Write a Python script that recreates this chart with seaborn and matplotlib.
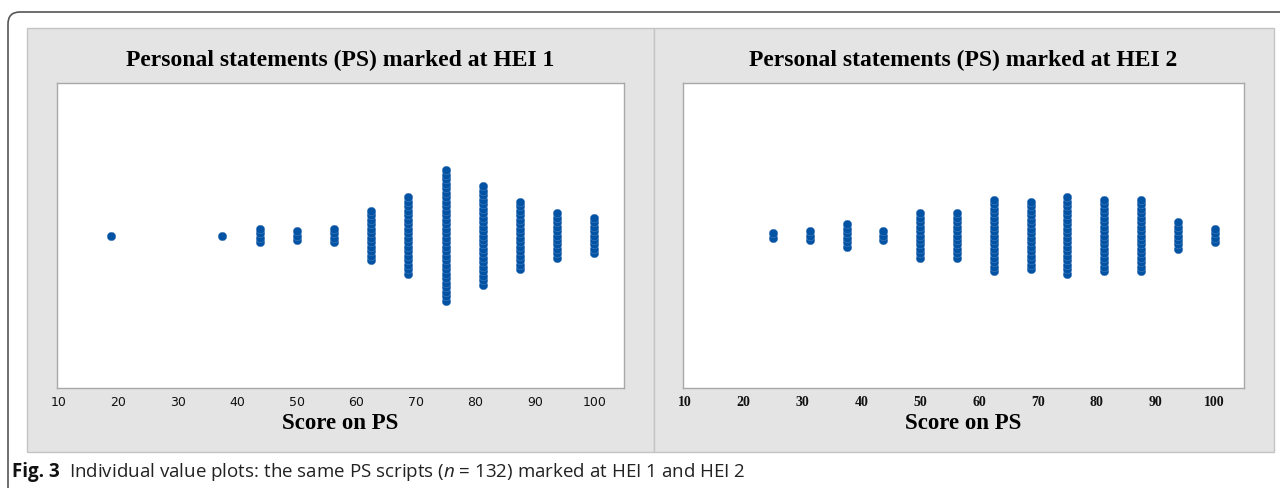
import numpy as np
import pandas as pd
import matplotlib
matplotlib.use("Agg")
import matplotlib.pyplot as plt
import seaborn as sns
from matplotlib.patches import Rectangle, FancyBboxPatch
from matplotlib.transforms import IdentityTransform

# scores (multiples of 6.25) and how many scripts got each score
hei1_scores = [18.75, 37.5, 43.75, 50, 56.25, 62.5, 68.75, 75, 81.25, 87.5, 93.75, 100]
hei1_counts = [1, 1, 4, 3, 4, 12, 18, 30, 23, 16, 11, 9]

hei2_scores = [25, 31.25, 37.5, 43.75, 50, 56.25, 62.5, 68.75, 75, 81.25, 87.5, 93.75, 100]
hei2_counts = [2, 3, 6, 3, 11, 11, 17, 16, 18, 17, 17, 7, 4]

titles = ["Personal statements (PS) marked at HEI 1",
          "Personal statements (PS) marked at HEI 2"]
xticks = [10, 20, 30, 40, 50, 60, 70, 80, 90, 100]
cap_bold = "Fig. 3"
cap_text = (r"Individual value plots: the same PS scripts "
            r"($\mathit{n}$ = 132) marked at HEI 1 and HEI 2")

BLUE = "#0353a4"
GREY = "#e4e4e4"


def stack(scores, counts):
    # one row per script, stacked vertically around 0 (Minitab style)
    rows = []
    for s, c in zip(scores, counts):
        for i in range(c):
            rows.append((s, i - (c - 1) / 2))
    return pd.DataFrame(rows, columns=["score", "pos"])


sns.set_style("white")
plt.rcParams["mathtext.fontset"] = "custom"
plt.rcParams["mathtext.rm"] = "Open Sans"
plt.rcParams["mathtext.it"] = "Open Sans:italic"
plt.rcParams["mathtext.bf"] = "Open Sans:bold"

W, H = 1280, 489
fig = plt.figure(figsize=(W / 100, H / 100), dpi=100)

# outer frame with rounded corner (only top and left visible)
fig.patches.append(FancyBboxPatch((8, -60), 1400, H - 13 + 60,
                                  boxstyle="round,pad=0,rounding_size=12",
                                  transform=IdentityTransform(), fc="white",
                                  ec="#555555", lw=1.2, zorder=-10))
# grey panels
for x0, x1 in [(27, 654), (654, 1274)]:
    fig.patches.append(Rectangle((x0 / W, 1 - 453 / H), (x1 - x0) / W, (453 - 29) / H,
                                 transform=fig.transFigure, fc=GREY,
                                 ec="#c4c4c4", lw=1.0, zorder=-5))

axes_pos = [[57 / W, 1 - 389 / H, 567 / W, 305 / H],
            [683 / W, 1 - 389 / H, 561 / W, 305 / H]]
data = [stack(hei1_scores, hei1_counts), stack(hei2_scores, hei2_counts)]

for k in range(2):
    ax = fig.add_axes(axes_pos[k])
    sns.scatterplot(data=data[k], x="score", y="pos", ax=ax, color=BLUE,
                    s=38, linewidth=0.3, edgecolor="#5b86c0", legend=False)
    ax.set_xlim(9.7, 105)
    ax.set_ylim(-34, 34)
    ax.set_yticks([])
    ax.set_xticks(xticks)
    ax.set_ylabel("")
    for sp in ax.spines.values():
        sp.set_color("#a8a8a8")
        sp.set_linewidth(1.0)
    ax.tick_params(axis="x", direction="out", length=3, width=0.8,
                   color="#8c8c8c", pad=2)
    if k == 0:
        for lab in ax.get_xticklabels():
            lab.set_family("DejaVu Sans")
            lab.set_fontsize(9)
            lab.set_color("#111111")
    else:
        for lab in ax.get_xticklabels():
            lab.set_family("Liberation Serif")
            lab.set_fontweight("bold")
            lab.set_fontsize(10)
            lab.set_color("#111111")
    ax.set_xlabel("Score on PS", family="Liberation Serif", fontweight="bold",
                  fontsize=16.5, labelpad=3, color="black")
    ax.set_title(titles[k], family="Liberation Serif", fontweight="bold",
                 fontsize=17, pad=13, color="black")

# caption: bold "Fig. 3" then the regular text right after it
t1 = fig.text(12 / W, 1 - 472 / H, cap_bold, fontsize=13.5, va="center", ha="left",
              family="Open Sans", fontweight="bold", color="#111111")
fig.canvas.draw()
bb = t1.get_window_extent()
fig.text((bb.x1 + 9) / W, 1 - 472 / H, cap_text, fontsize=13.5, va="center",
         ha="left", family="Open Sans", color="#222222")

fig.savefig("out.png", dpi=100)
